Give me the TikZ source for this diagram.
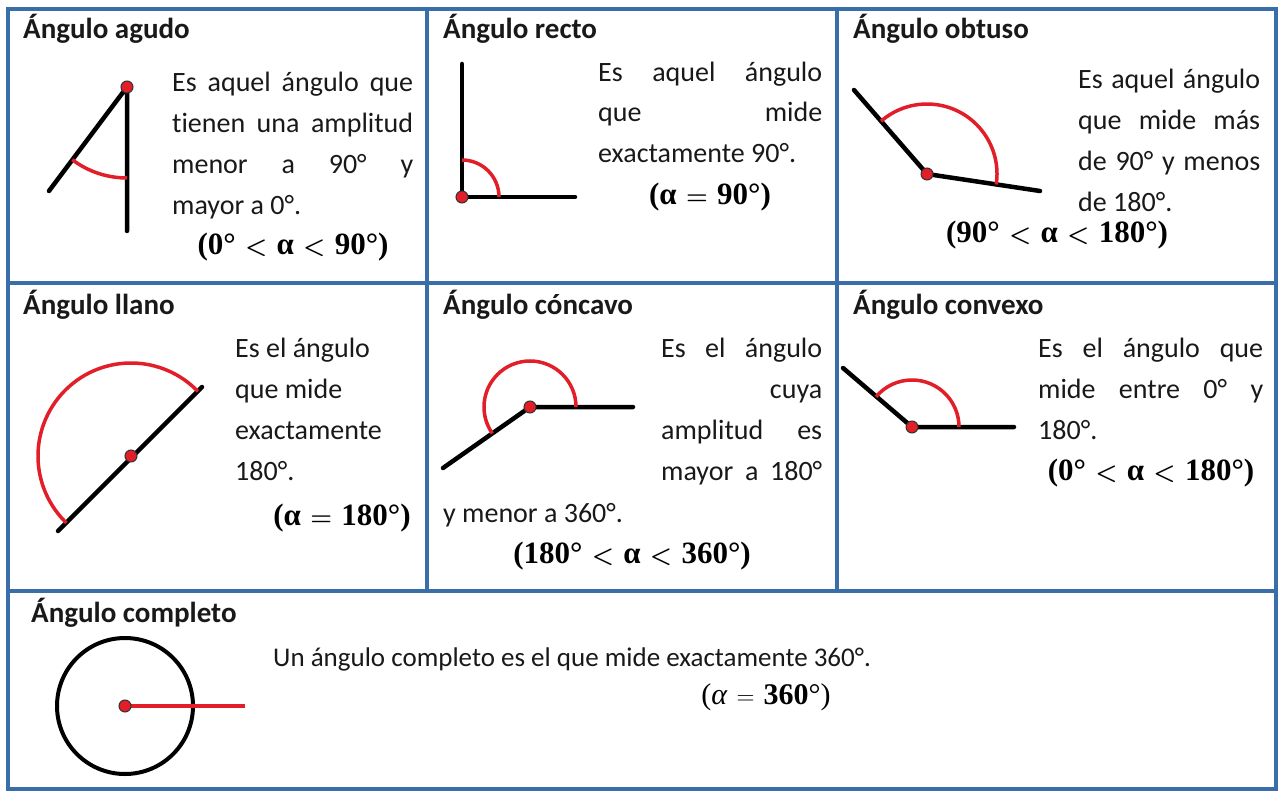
\documentclass[tikz,border=0pt]{standalone}
\usepackage{fontspec}
\setmainfont{Carlito}[Ligatures=NoCommon]
\newfontfamily\formfont{Liberation Serif}
\usetikzlibrary{calc}
\definecolor{marco}{RGB}{58,110,168}
\definecolor{rojo}{RGB}{226,30,40}
\tikzset{
  marco/.style   ={draw=marco, line width=4pt},
  titulo/.style  ={anchor=base west, inner sep=0pt, font=\fontsize{29}{34}\selectfont\bfseries, text=black!90},
  linea/.style   ={anchor=base west, inner sep=0pt, font=\fontsize{28}{34}\selectfont, text=black!90},
  formula/.style ={anchor=base, inner sep=0pt, font=\fontsize{31}{34}\selectfont\formfont\bfseries\boldmath},
  rayo/.style    ={line width=4.5pt, line cap=round, line join=round},
  arco/.style    ={draw=rojo, line width=3.5pt},
  vertice/.style ={circle, fill=rojo, draw=black!80, line width=1pt, minimum size=12pt, inner sep=0pt},
}
% justified line of a given width
\newcommand{\js}[2]{\makebox[#1pt][s]{#2}}
\newcommand{\lt}{\hspace{0.3em}$<$\hspace{0.3em}}
\newcommand{\eqs}{\hspace{0.3em}$=$\hspace{0.3em}}

\begin{document}
\begin{tikzpicture}[x=1pt, y=-1pt]
\useasboundingbox (0,0) rectangle (1279,791);
\fill[white] (0,0) rectangle (1279,791);

% frame
\draw[marco] (8,9) rectangle (1276,789);
\draw[marco] (8,283) -- (1276,283);
\draw[marco] (8,591) -- (1276,591);
\draw[marco] (427,9) -- (427,591);
\draw[marco] (837,9) -- (837,591);

% titles
\node[titulo] (ttagudo)    at (23,39)  {Ángulo agudo};
\node[titulo] (ttrecto)    at (443,39) {Ángulo recto};
\node[titulo] (ttobtuso)   at (853,39) {Ángulo obtuso};
\node[titulo] (ttllano)    at (23,315) {Ángulo llano};
\node[titulo] (ttconcavo)  at (443,315) {Ángulo cóncavo};
\node[titulo] (ttconvexo)  at (853,315) {Ángulo convexo};
\node[titulo] (ttcompleto) at (31,622) {Ángulo completo};

% agudo
\node[linea] (ag1) at (172,92)  {\js{241}{Es aquel ángulo que}};
\node[linea] (ag2) at (172,133) {\js{241}{tienen una amplitud}};
\node[linea] (ag3) at (172,174) {\js{241}{menor a 90° y}};
\node[linea] (ag4) at (172,215) {mayor a 0°.};
\node[formula] (fagudo) at (293,255) {(0°\lt α\lt 90°)};
\coordinate (v1) at (127,87);
\coordinate (a1) at (127,231);
\coordinate (b1) at (49,191);
\draw[rayo] (a1) -- (v1) -- (b1);
\draw[arco] ($(v1)+(127:91)$) arc[start angle=127, end angle=90, radius=91];
\node[vertice] (d1) at (v1) {};

% recto
\node[linea] (re1) at (598,82)  {\js{224}{Es aquel ángulo}};
\node[linea] (re2) at (598,122) {\js{224}{que mide}};
\node[linea] (re3) at (598,163) {exactamente 90°.};
\node[formula] (frecto) at (710,205) {(α\eqs 90°)};
\coordinate (v2) at (462,197);
\coordinate (a2) at (462,64);
\coordinate (b2) at (575,197);
\draw[rayo] (a2) -- (v2) -- (b2);
\draw[arco] ($(v2)+(-90:37)$) arc[start angle=-90, end angle=0, radius=37];
\node[vertice] (d2) at (v2) {};

% obtuso
\node[linea] (ob1) at (1078,89)  {\js{182}{Es aquel ángulo}};
\node[linea] (ob2) at (1078,130) {\js{182}{que mide más}};
\node[linea] (ob3) at (1078,171) {\js{182}{de 90° y menos}};
\node[linea] (ob4) at (1078,212) {de 180°.};
\node[formula] (fobtuso) at (1057,243) {(90°\lt α\lt 180°)};
\coordinate (v3) at (927,174);
\coordinate (a3) at (854,90);
\coordinate (b3) at (1040,191);
\draw[rayo] (a3) -- (v3) -- (b3);
\draw[arco] ($(v3)+(8.6:70)$) arc[start angle=8.6, end angle=-131, radius=70];
\node[vertice] (d3) at (v3) {};

% llano
\node[linea] (ll1) at (235,357) {Es el ángulo};
\node[linea] (ll2) at (235,398) {que mide};
\node[linea] (ll3) at (235,439) {exactamente};
\node[linea] (ll4) at (235,480) {180°.};
\node[formula] (fllano) at (342,525) {(α\eqs 180°)};
\coordinate (v4) at (131,456);
\coordinate (a4) at (58,531);
\coordinate (b4) at (202,387);
\draw[rayo] (a4) -- (b4);
\draw[arco] ($(v4)+(-44:93)$) arc[start angle=-44, end angle=-226, radius=93];
\node[vertice] (d4) at (v4) {};

% concavo
\node[linea] (co1) at (661,357) {\js{161}{Es el ángulo}};
\node[linea] (co2) at (661,398) {\makebox[161pt][r]{cuya}};
\node[linea] (co3) at (661,439) {\js{161}{amplitud es}};
\node[linea] (co4) at (661,480) {\js{161}{mayor a 180°}};
\node[linea] (co5) at (443,522) {y menor a 360°.};
\node[formula] (fconcavo) at (632,563) {(180°\lt α\lt 360°)};
\coordinate (v5) at (530,407);
\coordinate (a5) at (633,407);
\coordinate (b5) at (443,468);
\draw[rayo] (a5) -- (v5) -- (b5);
\draw[arco] ($(v5)+(0:46)$) arc[start angle=0, end angle=-215, radius=46];
\node[vertice] (d5) at (v5) {};

% convexo
\node[linea] (cv1) at (1038,357) {\js{225}{Es el ángulo que}};
\node[linea] (cv2) at (1038,398) {\js{225}{mide entre 0° y}};
\node[linea] (cv3) at (1038,439) {180°.};
\node[formula] (fconvexo) at (1151,480) {(0°\lt α\lt 180°)};
\coordinate (v6) at (912,427);
\coordinate (a6) at (1014,427);
\coordinate (b6) at (843,368);
\draw[rayo] (a6) -- (v6) -- (b6);
\draw[arco] ($(v6)+(0:47)$) arc[start angle=0, end angle=-140, radius=47];
\node[vertice] (d6) at (v6) {};

% completo
\node[linea, font=\fontsize{27}{34}\selectfont] (cp1) at (273,666) {Un ángulo completo es el que mide exactamente 360°.};
\node[formula, font=\fontsize{30}{34}\selectfont\formfont] (fcompleto) at (766,704) {(\textit{α}\eqs\textbf{360}°)};
\coordinate (v7) at (125,706);
\coordinate (a7) at (245,706);
\draw[line width=4pt] (v7) circle[radius=68];
\draw[draw=rojo, line width=4pt] (v7) -- (a7);
\node[vertice] (d7) at (v7) {};
\end{tikzpicture}
\end{document}
